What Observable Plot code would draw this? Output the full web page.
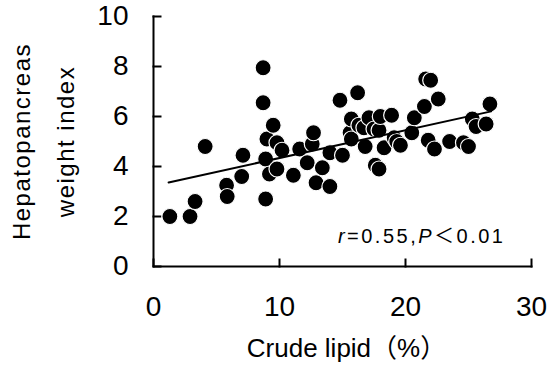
<!DOCTYPE html>
<html>
<head>
<meta charset="utf-8">
<script src="https://cdn.jsdelivr.net/npm/d3@7"></script>
<script src="https://cdn.jsdelivr.net/npm/@observablehq/plot@0.6"></script>
<style>
  html, body { margin: 0; padding: 0; background: #fff; }
</style>
</head>
<body>
<div id="chart"></div>
<script>
// Crude lipid (%) per sample
const lipid = [1.3, 2.9, 3.3, 4.1, 5.8, 5.85, 7.0, 7.1, 8.7, 8.7, 8.9, 8.9, 9.0, 9.2, 9.5, 9.8, 9.8, 10.2,
  11.1, 11.6, 12.2, 12.6, 12.7, 12.9, 13.4, 14.0, 14.0, 14.8, 15.0, 15.6, 15.7, 15.7, 16.2, 16.3, 16.7, 16.8,
  17.1, 17.5, 17.6, 17.9, 17.9, 18.0, 18.3, 18.9, 19.1, 19.3, 19.6, 20.5, 20.7, 21.5, 21.6, 22.0, 22.6, 21.8,
  22.3, 23.5, 24.6, 25.0, 25.3, 25.6, 26.4, 26.7];
// Hepatopancreas weight index per sample
const hwi = [2.0, 2.0, 2.6, 4.8, 3.25, 2.8, 3.6, 4.45, 7.95, 6.55, 4.3, 2.7, 5.1, 3.7, 5.65, 4.95, 3.9, 4.65,
  3.65, 4.7, 4.15, 4.9, 5.35, 3.35, 3.95, 4.55, 3.2, 6.65, 4.45, 5.35, 5.9, 5.1, 6.95, 5.65, 5.55, 4.8,
  5.95, 5.5, 4.05, 3.9, 5.45, 6.0, 4.75, 6.05, 5.15, 5.0, 4.85, 5.35, 5.95, 6.4, 7.5, 7.45, 6.7, 5.05,
  4.7, 5.0, 4.95, 4.8, 5.9, 5.6, 5.7, 6.5];
// Linear fit
const slope = 0.111;
const intercept = 3.23;
const xTicks = [0, 10, 20, 30];
const yTicks = [0, 2, 4, 6, 8, 10];
const xLabel = "Crude lipid（%）";
const yLabel = "Hepatopancreas\nweight index";
const statText = "r=0.55,P＜0.01";

const W = 550, H = 371, ML = 153, MR = 19, MT = 16, MB = 105;
const xDomain = [0, 30], yDomain = [0, 10];
const tickPx = 7;
// inward tick length expressed in data units of each scale
const xTickLen = tickPx * (yDomain[1] - yDomain[0]) / (H - MT - MB);
const yTickLen = tickPx * (xDomain[1] - xDomain[0]) / (W - ML - MR);

const points = lipid.map((x, i) => ({x, y: hwi[i]}));
const xr = d3.extent(lipid);
const fit = [
  {x: xr[0] - 0.1, y: intercept + slope * (xr[0] - 0.1)},
  {x: xr[1] + 0.1, y: intercept + slope * (xr[1] + 0.1)}
];

// axis frame (left + bottom) and inward ticks as polylines
const axisPaths = [
  {seg: "axes", x: xDomain[0], y: yDomain[1]},
  {seg: "axes", x: xDomain[0], y: yDomain[0]},
  {seg: "axes", x: xDomain[1], y: yDomain[0]},
  ...xTicks.flatMap(v => [
    {seg: "xt" + v, x: v, y: yDomain[0]},
    {seg: "xt" + v, x: v, y: yDomain[0] + xTickLen}
  ]),
  ...yTicks.flatMap(v => [
    {seg: "yt" + v, x: xDomain[0], y: v},
    {seg: "yt" + v, x: xDomain[0] + yTickLen, y: v}
  ])
];

const font = "'Liberation Sans', Arial, 'Noto Sans CJK JP', sans-serif";

const chart = Plot.plot({
  width: W,
  height: H,
  marginLeft: ML,
  marginRight: MR,
  marginTop: MT,
  marginBottom: MB,
  style: {fontFamily: font, background: "#fff", color: "#000"},
  x: {domain: xDomain},
  y: {domain: yDomain},
  marks: [
    Plot.axisX(xTicks, {tickSize: 0, tickPadding: 30, fontSize: 28, label: null}),
    Plot.axisY(yTicks, {tickSize: 0, tickPadding: 25, fontSize: 28, label: null}),
    Plot.line(axisPaths, {x: "x", y: "y", z: "seg", stroke: "#000", strokeWidth: 2, strokeLinejoin: "miter", strokeLinecap: "square"}),
    Plot.dot(points, {x: "x", y: "y", r: 8, fill: "#000", stroke: "#fff", strokeWidth: 1.2}),
    Plot.line(fit, {x: "x", y: "y", stroke: "#000", strokeWidth: 2}),
    Plot.text([statText], {frameAnchor: "bottom-right", textAnchor: "end", lineAnchor: "bottom", dx: -26, dy: -24, fontSize: 20, fill: "#000"}),
    Plot.text([yLabel], {frameAnchor: "left", rotate: -90, textAnchor: "middle", lineAnchor: "top", lineHeight: 1.83, dx: -155, fontSize: 24, fill: "#000"}),
    Plot.text([xLabel], {frameAnchor: "bottom", lineAnchor: "top", dx: 4, dy: 72, fontSize: 26, fill: "#000"})
  ]
});

// italicize r and P in the statistics text; widen spacing like the original
d3.select(chart).selectAll("text").filter(function() { return this.textContent === statText; })
  .each(function() {
    const t = d3.select(this).attr("letter-spacing", 2.5);
    t.text(null);
    t.append("tspan").attr("font-style", "italic").text("r");
    t.append("tspan").text("=0.55,");
    t.append("tspan").attr("font-style", "italic").text("P");
    t.append("tspan").text("＜0.01");
  });
d3.select(chart).selectAll("text").filter(function() { return this.textContent.startsWith("Hepatopancreas"); })
  .attr("letter-spacing", 1.5);

document.getElementById("chart").appendChild(chart);
</script>
</body>
</html>
